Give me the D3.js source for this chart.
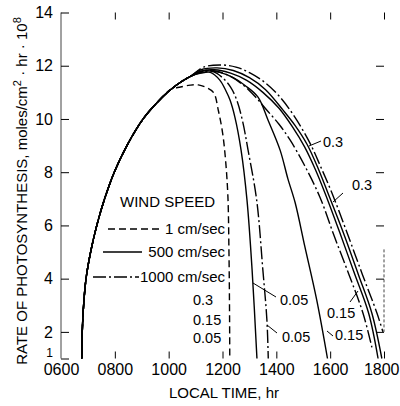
<!DOCTYPE html>
<html>
<head>
<meta charset="utf-8">
<script src="https://cdn.jsdelivr.net/npm/d3@7"></script>
<style>
  body { margin: 0; background: #fff; }
  svg { display: block; font-family: "Liberation Sans", Arial, sans-serif; }
</style>
</head>
<body>
<div id="chart"></div>
<script>
// tick values
const xTicks = [6, 8, 10, 12, 14, 16, 18];
const yTicks = [1, 2, 4, 6, 8, 10, 12, 14];

// common rising part of every curve [hour, rate]
const risePts = [[6.77, 1.0], [6.79, 2.0], [6.84, 3.0], [6.93, 4.0], [7.1, 5.0], [7.33, 6.0], [7.62, 7.0],
	[7.98, 8.0], [8.45, 9.0], [9.05, 10.0], [9.6, 10.65], [10.07, 11.1]];
const riseUpper = [[10.44, 11.38], [10.81, 11.6]];

// 1 cm/sec (0.3, 0.15, 0.05 all on one line)
const tailDashed1 = [[10.44, 11.2], [10.8, 11.27], [11.1, 11.28], [11.4, 11.18], [11.67, 10.99], [11.85, 10.3],
	[12.0, 9.5], [12.11, 8.5], [12.2, 7.1], [12.24, 5.0], [12.26, 3.0], [12.27, 1.0]];
// 500 cm/sec
const tailSolid005 = [[11.2, 11.72], [11.55, 11.75], [11.9, 11.46], [12.13, 11.05], [12.28, 10.71], [12.46, 10.07],
	[12.69, 8.83], [12.91, 6.95], [13.1, 4.32], [13.28, 1.0]];
const tailSolid015 = [[11.3, 11.8], [11.9, 11.75], [12.4, 11.55], [12.85, 11.25], [13.32, 10.82], [13.69, 9.96],
	[14.14, 8.83], [14.43, 7.75], [14.7, 6.85], [15.06, 5.2], [15.5, 3.2], [15.9, 1.0]];
const tailSolidA = [[11.2, 11.8], [11.7, 11.85], [12.3, 11.72], [12.9, 11.45], [13.5, 11.0], [14.1, 10.4], [14.6, 9.7],
	[15.05, 8.95], [15.45, 8.1], [15.81, 7.21], [16.35, 5.75], [16.9, 4.2], [17.43, 2.7], [17.78, 1.0]];
const tailSolid03 = [[11.2, 11.85], [11.8, 11.92], [12.4, 11.82], [13.0, 11.55], [13.6, 11.1], [14.25, 10.33], [14.7, 9.75],
	[15.14, 9.05], [15.55, 8.15], [15.92, 7.21], [16.5, 5.7], [17.05, 4.15], [17.55, 2.7], [17.92, 1.0]];
// 1000 cm/sec
const tailDashDot005 = [[11.2, 11.74], [11.65, 11.78], [12.0, 11.55], [12.3, 11.2], [12.53, 10.71], [12.75, 9.9],
	[12.95, 8.83], [13.27, 6.95], [13.5, 4.32], [13.65, 2.44], [13.7, 1.0]];
const tailDashDot015 = [[11.2, 11.78], [11.6, 11.82], [12.2, 11.65], [12.8, 11.25], [13.25, 10.8], [13.65, 10.33],
	[14.1, 9.8], [14.51, 9.21], [15.05, 8.25], [15.62, 7.06], [16.15, 5.6], [16.7, 4.15], [17.22, 2.7], [17.55, 1.42]];
const tailDashDot03 = [[11.3, 11.95], [11.91, 12.03], [12.5, 11.95], [13.02, 11.73], [13.6, 11.35], [14.14, 10.82],
	[14.7, 10.05], [15.25, 9.09], [15.65, 8.2], [16.07, 7.21], [16.6, 5.8], [17.2, 4.15], [17.74, 2.7], [17.96, 2.0]];

// legend
const legendItems = ["1 cm/sec", "500 cm/sec", "1000 cm/sec"];

const dashes = { dashed: "7,4", solid: null, dashdot: "13,3,2,3" };

const curves = [
	{ pts: risePts.concat(tailDashed1), style: "dashed" },
	{ pts: risePts.concat(riseUpper, tailSolid005), style: "solid" },
	{ pts: risePts.concat(riseUpper, tailSolid015), style: "solid" },
	{ pts: risePts.concat(riseUpper, tailSolidA), style: "solid" },
	{ pts: risePts.concat(riseUpper, tailSolid03), style: "solid" },
	{ pts: risePts.concat(riseUpper, tailDashDot005), style: "dashdot" },
	{ pts: risePts.concat(riseUpper, tailDashDot015), style: "dashdot" },
	{ pts: risePts.concat(riseUpper, tailDashDot03), style: "dashdot" }
];

const W = 400, H = 406;
const svg = d3.select("#chart").append("svg")
	.attr("width", W)
	.attr("height", H);

const x = d3.scaleLinear().domain([6, 18]).range([61, 384]);
const y = d3.scaleLinear().domain([1, 14]).range([358.5, 12.5]);

const fmtHour = d => d3.format("02")(d) + "00";

// left axis line
svg.append("line")
	.attr("x1", x(6)).attr("x2", x(6))
	.attr("y1", y(14)).attr("y2", y(1))
	.attr("stroke", "#444").attr("stroke-width", 1);

// right axis fragment
svg.append("line")
	.attr("x1", x(18)).attr("x2", x(18))
	.attr("y1", y(5.1)).attr("y2", y(2))
	.attr("stroke", "#444").attr("stroke-width", 1)
	.attr("stroke-dasharray", "3,2");

const leftAxis = svg.append("g")
	.attr("transform", `translate(${x(6)},0)`)
	.call(d3.axisLeft(y).tickValues(yTicks).tickSize(-8).tickPadding(8));

const bottomAxis = svg.append("g")
	.attr("transform", `translate(0,${y(1)})`)
	.call(d3.axisBottom(x).tickValues(xTicks).tickSize(-7).tickPadding(5).tickFormat(fmtHour));

const topAxis = svg.append("g")
	.attr("transform", `translate(0,${y(14)})`)
	.call(d3.axisTop(x).tickValues(xTicks.slice(1)).tickSize(-7).tickFormat(""));

const rightAxis = svg.append("g")
	.attr("transform", `translate(${x(18)},0)`)
	.call(d3.axisRight(y).tickValues(yTicks.slice(1, -1)).tickSize(-8).tickFormat(""));

[leftAxis, bottomAxis, topAxis, rightAxis].forEach(g => {
	g.select(".domain").remove();
	g.selectAll(".tick line").attr("stroke", "#000");
	g.selectAll("text")
		.attr("fill", "#000")
		.style("font-family", "'Liberation Sans', Arial, sans-serif")
		.style("font-size", "16px");
});

// bottom 0600 tick is a corner, drawn horizontally instead
bottomAxis.selectAll(".tick").filter(d => d === 6).select("line").remove();
bottomAxis.selectAll(".tick").filter(d => d === 18).select("text")
	.attr("text-anchor", "end").attr("x", 15);
leftAxis.selectAll(".tick").filter(d => d === 1).select("text")
	.style("font-size", "12px").attr("dy", "-0.15em");

// curves
const line = d3.line()
	.x(d => x(d[0]))
	.y(d => y(d[1]))
	.curve(d3.curveCatmullRom.alpha(0.5));

svg.append("g").selectAll("path")
	.data(curves)
	.join("path")
	.attr("d", d => line(d.pts))
	.attr("fill", "none")
	.attr("stroke", "#000")
	.attr("stroke-width", 1.4)
	.attr("stroke-dasharray", d => dashes[d.style]);

// legend
svg.append("text")
	.attr("x", 120).attr("y", 207)
	.style("font-size", "15px")
	.text("WIND SPEED");

const legendLines = [[108, 160, 229, "dashed"], [103, 142, 252, "solid"], [93, 139, 277, "dashdot"]];
legendItems.forEach((label, i) => {
	const [x1, x2, ly, style] = legendLines[i];
	svg.append("line")
		.attr("x1", x1).attr("x2", x2)
		.attr("y1", ly).attr("y2", ly)
		.attr("stroke", "#000").attr("stroke-width", 1.4)
		.attr("stroke-dasharray", dashes[style]);
	svg.append("text")
		.attr("x", 225).attr("y", ly + 5)
		.attr("text-anchor", "end")
		.style("font-size", "15px")
		.text(label);
});

// curve labels: [text, x, y, leader x1, y1, x2, y2]
const curveLabels = [
	["0.3", 193, 305], ["0.15", 193, 325], ["0.05", 193, 343],
	["0.05", 280, 305, 276, 297, 253, 283],
	["0.05", 282, 342, 277, 333, 267, 325],
	["0.15", 327, 318, 350, 302, 358, 291],
	["0.15", 335, 340, 333, 336, 327, 331],
	["0.3", 323, 147, 321, 141, 309, 146],
	["0.3", 352, 190, 343, 193, 333, 202]
];
curveLabels.forEach(l => {
	svg.append("text")
		.attr("x", l[1]).attr("y", l[2])
		.style("font-size", "14.5px")
		.text(l[0]);
	if (l.length > 3) {
		svg.append("line")
			.attr("x1", l[3]).attr("y1", l[4])
			.attr("x2", l[5]).attr("y2", l[6])
			.attr("stroke", "#000").attr("stroke-width", 1);
	}
});

// axis titles
svg.append("text")
	.attr("x", 224).attr("y", 398)
	.attr("text-anchor", "middle")
	.style("font-size", "15px")
	.text("LOCAL TIME, hr");

const yTitle = svg.append("text")
	.attr("transform", "translate(27,191) rotate(-90)")
	.attr("text-anchor", "middle")
	.style("font-size", "15px");
yTitle.append("tspan").text("RATE OF PHOTOSYNTHESIS, moles/cm");
yTitle.append("tspan").attr("dy", -6).style("font-size", "11px").text("2");
yTitle.append("tspan").attr("dy", 6).text(" \u00b7 hr \u00b7 10");
yTitle.append("tspan").attr("dy", -6).style("font-size", "11px").text("8");
</script>
</body>
</html>
